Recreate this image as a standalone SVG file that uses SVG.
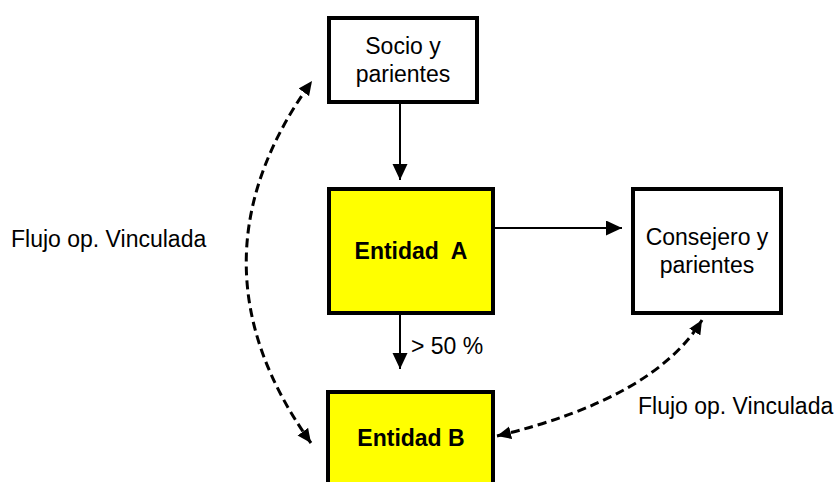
<svg xmlns="http://www.w3.org/2000/svg" width="838" height="482" viewBox="0 0 838 482">
<style>
.box{stroke:#000;stroke-width:4}
.w{fill:#fff}
.y{fill:#ffff00}
text{font-family:"Liberation Sans",Arial,sans-serif;font-size:23px;fill:#000}
.b{font-weight:bold}
.c{text-anchor:middle}
.solid{stroke:#000;stroke-width:2;fill:none}
.dash{stroke:#000;stroke-width:3;fill:none;stroke-dasharray:9 5}
</style>
<defs>
<marker id="ah" markerUnits="userSpaceOnUse" markerWidth="18" markerHeight="16" refX="16" refY="7.5" orient="auto">
<path d="M0,0 L16,7.5 L0,15 Z" fill="#000"/>
</marker>
<marker id="dh" markerUnits="userSpaceOnUse" markerWidth="16" markerHeight="14" refX="14" refY="6.5" orient="auto-start-reverse">
<path d="M0,0 L14,6.5 L0,13 Z" fill="#000"/>
</marker>
</defs>
<g id="connectors">
<line class="solid" x1="400" y1="104" x2="400" y2="180" marker-end="url(#ah)"/>
<line class="solid" x1="400" y1="315" x2="400" y2="369" marker-end="url(#ah)"/>
<line class="solid" x1="494" y1="228" x2="622" y2="228" marker-end="url(#ah)"/>
<path class="dash" d="M311,443 Q181,262 312,81" marker-start="url(#dh)" marker-end="url(#dh)"/>
<path class="dash" d="M497,436 Q655,398 702,320" marker-start="url(#dh)" marker-end="url(#dh)"/>
<text x="411" y="354">&gt; 50 %</text>
<text x="11" y="247">Flujo op. Vinculada</text>
<text x="638" y="414">Flujo op. Vinculada</text>
</g>
<g id="socio">
<rect class="box w" x="329" y="18" width="148" height="84"/>
<text class="c" x="403" y="54">Socio y</text>
<text class="c" x="403" y="82">parientes</text>
</g>
<g id="entidadA">
<rect class="box y" x="329" y="189" width="164" height="124"/>
<text class="c b" x="411" y="259" xml:space="preserve">Entidad  A</text>
</g>
<g id="consejero">
<rect class="box w" x="633" y="189" width="148" height="124"/>
<text class="c" x="707" y="245">Consejero y</text>
<text class="c" x="707" y="273">parientes</text>
</g>
<g id="entidadB">
<rect class="box y" x="328" y="392" width="165" height="110"/>
<text class="c b" x="411" y="446">Entidad B</text>
</g>
</svg>
